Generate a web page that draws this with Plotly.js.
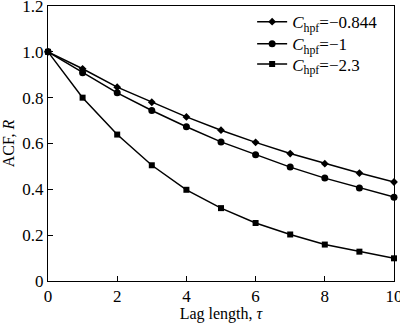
<!DOCTYPE html>
<html>
<head>
<meta charset="utf-8">
<script src="https://cdn.plot.ly/plotly-3.0.1.min.js"></script>
<style>html,body{margin:0;padding:0;background:#fff;}#chart{width:400px;height:323px;}</style>
</head>
<body>
<div id="chart"></div>
<script>
const lags = [0, 1, 2, 3, 4, 5, 6, 7, 8, 9, 10];
const acf_0844 = [1.0, 0.926, 0.846, 0.780, 0.716, 0.658, 0.605, 0.556, 0.512, 0.471, 0.432];
const acf_1 = [1.0, 0.909, 0.821, 0.744, 0.673, 0.607, 0.551, 0.497, 0.449, 0.406, 0.366];
const acf_23 = [1.0, 0.800, 0.639, 0.505, 0.398, 0.318, 0.253, 0.203, 0.159, 0.128, 0.099];
const seriesNames = ['<i>C</i><sub>hpf</sub>=\u22120.844', '<i>C</i><sub>hpf</sub>=\u22121', '<i>C</i><sub>hpf</sub>=\u22122.3'];
const yTickVals = [0, 0.2, 0.4, 0.6, 0.8, 1.0, 1.2];
const yTickText = ['0', '0.2', '0.4', '0.6', '0.8', '1.0', '1.2'];
const xTickVals = [0, 2, 4, 6, 8, 10];
const xTickText = ['0', '2', '4', '6', '8', '10'];

const fam = '"Liberation Serif", "Times New Roman", serif';
const font = {family: fam, size: 16, color: '#000'};
const tickFont = {family: fam, size: 17, color: '#000'};
const legFont = {family: fam, size: 17, color: '#000'};
const mk = (y, name, symbol, size, leg) => ({
  x: lags, y: y, name: name, type: 'scatter', mode: 'lines+markers',
  line: {color: '#000', width: 1.5},
  marker: {symbol: symbol, size: size, color: '#000'},
  cliponaxis: false, legend: leg
});
const data = [
  mk(acf_0844, seriesNames[0], 'diamond', 6, 'legend'),
  mk(acf_1, seriesNames[1], 'circle', 7, 'legend2'),
  mk(acf_23, seriesNames[2], 'square', 6, 'legend3')
];
const legBase = {x: 0.59, xanchor: 'left', yanchor: 'top', bgcolor: 'rgba(0,0,0,0)', font: legFont, itemwidth: 30};
const layout = {
  width: 400, height: 323,
  margin: {l: 48, r: 6, t: 5, b: 42},
  paper_bgcolor: '#fff', plot_bgcolor: '#fff',
  font: font,
  showlegend: true,
  legend: Object.assign({}, legBase, {y: 1.003}),
  legend2: Object.assign({}, legBase, {y: 0.923}),
  legend3: Object.assign({}, legBase, {y: 0.850}),
  xaxis: {
    range: [0, 10], tickvals: xTickVals, ticktext: xTickText,
    ticks: 'inside', ticklen: 5, tickcolor: '#000', tickwidth: 1,
    showline: true, linecolor: '#000', linewidth: 1, mirror: true,
    showgrid: false, zeroline: false, tickfont: tickFont, ticklabeloverflow: 'allow',
    title: {text: 'Lag length, <i>\u03c4</i>', font: font, standoff: 2}
  },
  yaxis: {
    range: [0, 1.2], tickvals: yTickVals, ticktext: yTickText,
    ticks: 'inside', ticklen: 5, tickcolor: '#000', tickwidth: 1,
    showline: true, linecolor: '#000', linewidth: 1, mirror: true,
    showgrid: false, zeroline: false, tickfont: tickFont, ticklabeloverflow: 'allow',
    title: {text: 'ACF, <i>R</i>', font: font, standoff: 4}
  }
};
Plotly.newPlot('chart', data, layout, {displayModeBar: false, staticPlot: true});
</script>
</body>
</html>
